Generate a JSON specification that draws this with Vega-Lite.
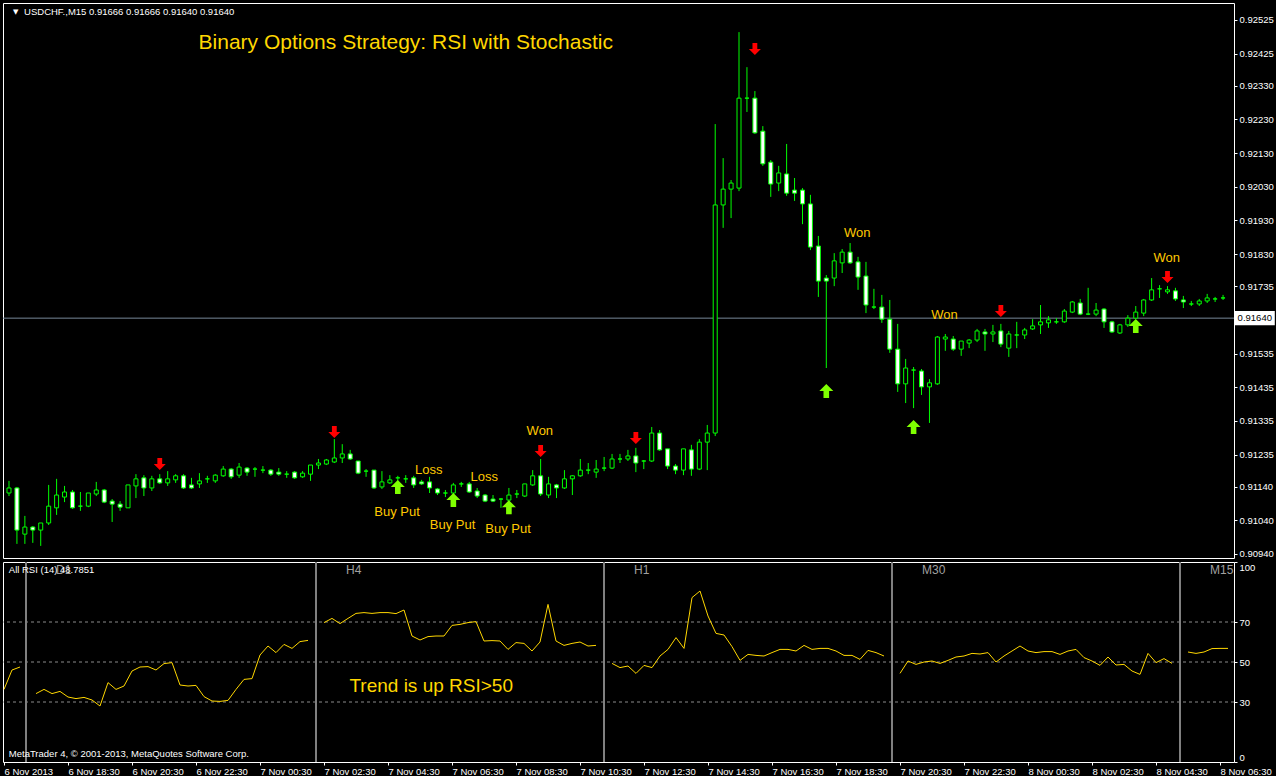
{
  "$schema": "https://vega.github.io/schema/vega-lite/v6.json",
  "background": "#000000",
  "padding": {"left": 1, "top": 2, "right": 0, "bottom": 0},
  "spacing": 4,
  "bounds": "flush",
  "config": {
    "view": {"stroke": "#ffffff", "strokeWidth": 1},
    "font": "Liberation Sans",
    "axis": {"labelColor": "#ffffff", "tickColor": "#ffffff", "labelFont": "Liberation Sans", "labelFontSize": 9.5, "grid": false, "domain": false, "tickSize": 3, "labelOverlap": false}
  },
  "datasets": {
    "candles": [
      {"i":0,"o":0.91121,"h":0.91157,"l":0.91112,"c":0.91136},
      {"i":1,"o":0.91136,"h":0.91139,"l":0.90970,"c":0.91011},
      {"i":2,"o":0.90999,"h":0.91053,"l":0.90970,"c":0.91020},
      {"i":3,"o":0.91020,"h":0.91023,"l":0.90973,"c":0.91011},
      {"i":4,"o":0.91011,"h":0.91032,"l":0.90964,"c":0.91032},
      {"i":5,"o":0.91032,"h":0.91145,"l":0.91026,"c":0.91082},
      {"i":6,"o":0.91077,"h":0.91163,"l":0.91056,"c":0.91115},
      {"i":7,"o":0.91109,"h":0.91142,"l":0.91094,"c":0.91124},
      {"i":8,"o":0.91124,"h":0.91130,"l":0.91074,"c":0.91077},
      {"i":9,"o":0.91082,"h":0.91124,"l":0.91068,"c":0.91082},
      {"i":10,"o":0.91082,"h":0.91121,"l":0.91079,"c":0.91121},
      {"i":11,"o":0.91118,"h":0.91154,"l":0.91112,"c":0.91130},
      {"i":12,"o":0.91130,"h":0.91133,"l":0.91091,"c":0.91094},
      {"i":13,"o":0.91097,"h":0.91103,"l":0.91035,"c":0.91088},
      {"i":14,"o":0.91088,"h":0.91097,"l":0.91068,"c":0.91079},
      {"i":15,"o":0.91077,"h":0.91145,"l":0.91077,"c":0.91145},
      {"i":16,"o":0.91142,"h":0.91177,"l":0.91106,"c":0.91163},
      {"i":17,"o":0.91166,"h":0.91174,"l":0.91112,"c":0.91136},
      {"i":18,"o":0.91136,"h":0.91172,"l":0.91127,"c":0.91163},
      {"i":19,"o":0.91163,"h":0.91177,"l":0.91148,"c":0.91151},
      {"i":20,"o":0.91151,"h":0.91186,"l":0.91142,"c":0.91163},
      {"i":21,"o":0.91160,"h":0.91177,"l":0.91151,"c":0.91172},
      {"i":22,"o":0.91172,"h":0.91177,"l":0.91133,"c":0.91136},
      {"i":23,"o":0.91145,"h":0.91166,"l":0.91133,"c":0.91136},
      {"i":24,"o":0.91148,"h":0.91180,"l":0.91136,"c":0.91157},
      {"i":25,"o":0.91163,"h":0.91172,"l":0.91151,"c":0.91163},
      {"i":26,"o":0.91157,"h":0.91177,"l":0.91151,"c":0.91174},
      {"i":27,"o":0.91172,"h":0.91201,"l":0.91169,"c":0.91192},
      {"i":28,"o":0.91192,"h":0.91195,"l":0.91163,"c":0.91169},
      {"i":29,"o":0.91174,"h":0.91210,"l":0.91166,"c":0.91198},
      {"i":30,"o":0.91195,"h":0.91198,"l":0.91172,"c":0.91183},
      {"i":31,"o":0.91192,"h":0.91198,"l":0.91169,"c":0.91192},
      {"i":32,"o":0.91189,"h":0.91201,"l":0.91180,"c":0.91189},
      {"i":33,"o":0.91189,"h":0.91192,"l":0.91172,"c":0.91177},
      {"i":34,"o":0.91183,"h":0.91195,"l":0.91172,"c":0.91177},
      {"i":35,"o":0.91177,"h":0.91186,"l":0.91166,"c":0.91177},
      {"i":36,"o":0.91183,"h":0.91186,"l":0.91163,"c":0.91166},
      {"i":37,"o":0.91169,"h":0.91186,"l":0.91166,"c":0.91180},
      {"i":38,"o":0.91177,"h":0.91204,"l":0.91157,"c":0.91204},
      {"i":39,"o":0.91204,"h":0.91222,"l":0.91192,"c":0.91210},
      {"i":40,"o":0.91207,"h":0.91222,"l":0.91204,"c":0.91219},
      {"i":41,"o":0.91213,"h":0.91281,"l":0.91210,"c":0.91225},
      {"i":42,"o":0.91225,"h":0.91266,"l":0.91210,"c":0.91237},
      {"i":43,"o":0.91237,"h":0.91249,"l":0.91219,"c":0.91222},
      {"i":44,"o":0.91216,"h":0.91216,"l":0.91177,"c":0.91180},
      {"i":45,"o":0.91186,"h":0.91192,"l":0.91169,"c":0.91186},
      {"i":46,"o":0.91189,"h":0.91189,"l":0.91133,"c":0.91136},
      {"i":47,"o":0.91139,"h":0.91186,"l":0.91133,"c":0.91154},
      {"i":48,"o":0.91151,"h":0.91174,"l":0.91148,"c":0.91160},
      {"i":49,"o":0.91166,"h":0.91172,"l":0.91157,"c":0.91166},
      {"i":50,"o":0.91163,"h":0.91174,"l":0.91151,"c":0.91163},
      {"i":51,"o":0.91166,"h":0.91172,"l":0.91136,"c":0.91145},
      {"i":52,"o":0.91154,"h":0.91160,"l":0.91145,"c":0.91148},
      {"i":53,"o":0.91154,"h":0.91169,"l":0.91121,"c":0.91136},
      {"i":54,"o":0.91133,"h":0.91136,"l":0.91115,"c":0.91121},
      {"i":55,"o":0.91121,"h":0.91130,"l":0.91109,"c":0.91121},
      {"i":56,"o":0.91121,"h":0.91151,"l":0.91112,"c":0.91145},
      {"i":57,"o":0.91148,"h":0.91154,"l":0.91139,"c":0.91148},
      {"i":58,"o":0.91148,"h":0.91154,"l":0.91121,"c":0.91124},
      {"i":59,"o":0.91127,"h":0.91136,"l":0.91106,"c":0.91112},
      {"i":60,"o":0.91115,"h":0.91118,"l":0.91094,"c":0.91097},
      {"i":61,"o":0.91103,"h":0.91115,"l":0.91094,"c":0.91097},
      {"i":62,"o":0.91103,"h":0.91106,"l":0.91077,"c":0.91103},
      {"i":63,"o":0.91100,"h":0.91136,"l":0.91097,"c":0.91115},
      {"i":64,"o":0.91118,"h":0.91130,"l":0.91106,"c":0.91118},
      {"i":65,"o":0.91112,"h":0.91148,"l":0.91109,"c":0.91148},
      {"i":66,"o":0.91145,"h":0.91189,"l":0.91142,"c":0.91172},
      {"i":67,"o":0.91172,"h":0.91222,"l":0.91112,"c":0.91118},
      {"i":68,"o":0.91115,"h":0.91169,"l":0.91106,"c":0.91148},
      {"i":69,"o":0.91145,"h":0.91148,"l":0.91106,"c":0.91136},
      {"i":70,"o":0.91136,"h":0.91189,"l":0.91133,"c":0.91163},
      {"i":71,"o":0.91163,"h":0.91174,"l":0.91115,"c":0.91172},
      {"i":72,"o":0.91172,"h":0.91222,"l":0.91169,"c":0.91189},
      {"i":73,"o":0.91189,"h":0.91210,"l":0.91177,"c":0.91189},
      {"i":74,"o":0.91183,"h":0.91219,"l":0.91166,"c":0.91192},
      {"i":75,"o":0.91195,"h":0.91228,"l":0.91186,"c":0.91195},
      {"i":76,"o":0.91195,"h":0.91237,"l":0.91192,"c":0.91222},
      {"i":77,"o":0.91222,"h":0.91237,"l":0.91210,"c":0.91222},
      {"i":78,"o":0.91222,"h":0.91249,"l":0.91216,"c":0.91231},
      {"i":79,"o":0.91231,"h":0.91255,"l":0.91183,"c":0.91210},
      {"i":80,"o":0.91216,"h":0.91219,"l":0.91192,"c":0.91216},
      {"i":81,"o":0.91216,"h":0.91317,"l":0.91213,"c":0.91299},
      {"i":82,"o":0.91299,"h":0.91308,"l":0.91246,"c":0.91249},
      {"i":83,"o":0.91252,"h":0.91252,"l":0.91192,"c":0.91201},
      {"i":84,"o":0.91201,"h":0.91207,"l":0.91177,"c":0.91189},
      {"i":85,"o":0.91189,"h":0.91252,"l":0.91174,"c":0.91252},
      {"i":86,"o":0.91249,"h":0.91264,"l":0.91172,"c":0.91192},
      {"i":87,"o":0.91192,"h":0.91281,"l":0.91189,"c":0.91272},
      {"i":88,"o":0.91272,"h":0.91323,"l":0.91189,"c":0.91299},
      {"i":89,"o":0.91299,"h":0.92216,"l":0.91290,"c":0.91976},
      {"i":90,"o":0.91976,"h":0.92115,"l":0.91908,"c":0.92023},
      {"i":91,"o":0.92023,"h":0.92050,"l":0.91937,"c":0.92041},
      {"i":92,"o":0.92026,"h":0.92489,"l":0.92017,"c":0.92293},
      {"i":93,"o":0.92293,"h":0.92385,"l":0.92252,"c":0.92293},
      {"i":94,"o":0.92293,"h":0.92314,"l":0.92187,"c":0.92190},
      {"i":95,"o":0.92195,"h":0.92210,"l":0.92092,"c":0.92098},
      {"i":96,"o":0.92103,"h":0.92109,"l":0.92000,"c":0.92038},
      {"i":97,"o":0.92041,"h":0.92092,"l":0.92017,"c":0.92071},
      {"i":98,"o":0.92068,"h":0.92157,"l":0.92003,"c":0.92011},
      {"i":99,"o":0.92020,"h":0.92056,"l":0.91988,"c":0.92011},
      {"i":100,"o":0.92020,"h":0.92026,"l":0.91919,"c":0.91979},
      {"i":101,"o":0.91979,"h":0.92006,"l":0.91842,"c":0.91851},
      {"i":102,"o":0.91854,"h":0.91884,"l":0.91703,"c":0.91750},
      {"i":103,"o":0.91759,"h":0.91768,"l":0.91492,"c":0.91750},
      {"i":104,"o":0.91759,"h":0.91833,"l":0.91735,"c":0.91810},
      {"i":105,"o":0.91804,"h":0.91845,"l":0.91774,"c":0.91836},
      {"i":106,"o":0.91836,"h":0.91863,"l":0.91801,"c":0.91804},
      {"i":107,"o":0.91807,"h":0.91822,"l":0.91724,"c":0.91762},
      {"i":108,"o":0.91765,"h":0.91807,"l":0.91655,"c":0.91679},
      {"i":109,"o":0.91673,"h":0.91727,"l":0.91667,"c":0.91673},
      {"i":110,"o":0.91673,"h":0.91709,"l":0.91626,"c":0.91637},
      {"i":111,"o":0.91637,"h":0.91694,"l":0.91537,"c":0.91548},
      {"i":112,"o":0.91548,"h":0.91623,"l":0.91421,"c":0.91445},
      {"i":113,"o":0.91445,"h":0.91519,"l":0.91388,"c":0.91492},
      {"i":114,"o":0.91486,"h":0.91495,"l":0.91373,"c":0.91486},
      {"i":115,"o":0.91483,"h":0.91489,"l":0.91412,"c":0.91436},
      {"i":116,"o":0.91436,"h":0.91459,"l":0.91329,"c":0.91448},
      {"i":117,"o":0.91445,"h":0.91587,"l":0.91442,"c":0.91584},
      {"i":118,"o":0.91578,"h":0.91593,"l":0.91543,"c":0.91584},
      {"i":119,"o":0.91578,"h":0.91587,"l":0.91543,"c":0.91548},
      {"i":120,"o":0.91548,"h":0.91572,"l":0.91528,"c":0.91572},
      {"i":121,"o":0.91566,"h":0.91578,"l":0.91551,"c":0.91575},
      {"i":122,"o":0.91575,"h":0.91608,"l":0.91569,"c":0.91602},
      {"i":123,"o":0.91599,"h":0.91608,"l":0.91543,"c":0.91593},
      {"i":124,"o":0.91593,"h":0.91620,"l":0.91569,"c":0.91599},
      {"i":125,"o":0.91602,"h":0.91623,"l":0.91554,"c":0.91563},
      {"i":126,"o":0.91551,"h":0.91602,"l":0.91525,"c":0.91593},
      {"i":127,"o":0.91590,"h":0.91629,"l":0.91551,"c":0.91590},
      {"i":128,"o":0.91590,"h":0.91611,"l":0.91578,"c":0.91605},
      {"i":129,"o":0.91608,"h":0.91637,"l":0.91605,"c":0.91617},
      {"i":130,"o":0.91620,"h":0.91679,"l":0.91593,"c":0.91629},
      {"i":131,"o":0.91626,"h":0.91646,"l":0.91611,"c":0.91635},
      {"i":132,"o":0.91629,"h":0.91640,"l":0.91623,"c":0.91629},
      {"i":133,"o":0.91629,"h":0.91667,"l":0.91626,"c":0.91661},
      {"i":134,"o":0.91658,"h":0.91691,"l":0.91655,"c":0.91688},
      {"i":135,"o":0.91685,"h":0.91697,"l":0.91649,"c":0.91652},
      {"i":136,"o":0.91652,"h":0.91730,"l":0.91649,"c":0.91652},
      {"i":137,"o":0.91652,"h":0.91685,"l":0.91646,"c":0.91664},
      {"i":138,"o":0.91667,"h":0.91670,"l":0.91611,"c":0.91629},
      {"i":139,"o":0.91629,"h":0.91632,"l":0.91596,"c":0.91599},
      {"i":140,"o":0.91596,"h":0.91623,"l":0.91593,"c":0.91620},
      {"i":141,"o":0.91620,"h":0.91649,"l":0.91614,"c":0.91640},
      {"i":142,"o":0.91640,"h":0.91676,"l":0.91637,"c":0.91658},
      {"i":143,"o":0.91655,"h":0.91697,"l":0.91646,"c":0.91694},
      {"i":144,"o":0.91694,"h":0.91759,"l":0.91691,"c":0.91724},
      {"i":145,"o":0.91727,"h":0.91738,"l":0.91700,"c":0.91727},
      {"i":146,"o":0.91718,"h":0.91735,"l":0.91712,"c":0.91724},
      {"i":147,"o":0.91721,"h":0.91730,"l":0.91691,"c":0.91697},
      {"i":148,"o":0.91694,"h":0.91706,"l":0.91670,"c":0.91688},
      {"i":149,"o":0.91682,"h":0.91691,"l":0.91676,"c":0.91682},
      {"i":150,"o":0.91682,"h":0.91697,"l":0.91676,"c":0.91691},
      {"i":151,"o":0.91691,"h":0.91712,"l":0.91685,"c":0.91700},
      {"i":152,"o":0.91697,"h":0.91703,"l":0.91688,"c":0.91697},
      {"i":153,"o":0.91700,"h":0.91709,"l":0.91694,"c":0.91700}
    ],
    "signals": [
      {"i":19,"p":0.91207,"dir":"down"},
      {"i":41,"p":0.91302,"dir":"down"},
      {"i":67,"p":0.91246,"dir":"down"},
      {"i":79,"p":0.91284,"dir":"down"},
      {"i":94,"p":0.92439,"dir":"down"},
      {"i":125,"p":0.91661,"dir":"down"},
      {"i":146,"p":0.91762,"dir":"down"},
      {"i":49,"p":0.91139,"dir":"up"},
      {"i":56,"p":0.91100,"dir":"up"},
      {"i":63,"p":0.91079,"dir":"up"},
      {"i":103,"p":0.91424,"dir":"up"},
      {"i":114,"p":0.91317,"dir":"up"},
      {"i":142,"p":0.91617,"dir":"up"}
    ],
    "notes": [
      {"i":1.9,"p":0.92549,"text":"USDCHF.,M15  0.91666 0.91666 0.91640 0.91640","kind":"header"},
      {"i":50,"p":0.92457,"text":"Binary Options Strategy: RSI with Stochastic","kind":"title"},
      {"i":52.9,"p":0.91189,"text":"Loss","kind":"result"},
      {"i":59.9,"p":0.91169,"text":"Loss","kind":"result"},
      {"i":66.9,"p":0.91305,"text":"Won","kind":"result"},
      {"i":106.9,"p":0.91893,"text":"Won","kind":"result"},
      {"i":117.9,"p":0.91649,"text":"Won","kind":"result"},
      {"i":145.9,"p":0.91819,"text":"Won","kind":"result"},
      {"i":48.9,"p":0.91065,"text":"Buy Put","kind":"action"},
      {"i":55.9,"p":0.91026,"text":"Buy Put","kind":"action"},
      {"i":62.9,"p":0.91014,"text":"Buy Put","kind":"action"}
    ],
    "bid": [{"p":0.9164,"text":"0.91640"}],
    "levels": [{"v":30},{"v":50},{"v":70}],
    "tf": [
      {"i":2.75,"name":"D1"},
      {"i":39,"name":"H4"},
      {"i":75,"name":"H1"},
      {"i":111,"name":"M30"},
      {"i":147,"name":"M15"}
    ],
    "rsinotes": [
      {"i":0.6,"v":96,"text":"All RSI (14) 48.7851","kind":"info"},
      {"i":0.6,"v":4,"text":"MetaTrader 4, © 2001-2013, MetaQuotes Software Corp.","kind":"info"},
      {"i":53.4,"v":38,"text":"Trend is up RSI>50","kind":"trend"}
    ],
    "rsi": [
      {"i":0,"v":36.3,"seg":"W1"},{"i":1,"v":46,"seg":"W1"},{"i":2,"v":47.5,"seg":"W1"},
      {"i":4,"v":34.2,"seg":"D1"},{"i":5,"v":36.3,"seg":"D1"},{"i":6,"v":34.2,"seg":"D1"},{"i":7,"v":35.3,"seg":"D1"},
      {"i":8,"v":32.5,"seg":"D1"},{"i":9,"v":31.7,"seg":"D1"},{"i":10,"v":32.3,"seg":"D1"},{"i":11,"v":31,"seg":"D1"},
      {"i":12,"v":28,"seg":"D1"},{"i":13,"v":39.7,"seg":"D1"},{"i":14,"v":36.3,"seg":"D1"},{"i":15,"v":38,"seg":"D1"},
      {"i":16,"v":45.5,"seg":"D1"},{"i":17,"v":47.5,"seg":"D1"},{"i":18,"v":47.7,"seg":"D1"},{"i":19,"v":46,"seg":"D1"},
      {"i":20,"v":49.2,"seg":"D1"},{"i":21,"v":49.7,"seg":"D1"},{"i":22,"v":38.5,"seg":"D1"},{"i":23,"v":38,"seg":"D1"},
      {"i":24,"v":38.3,"seg":"D1"},{"i":25,"v":32.7,"seg":"D1"},{"i":26,"v":30.5,"seg":"D1"},{"i":27,"v":30.3,"seg":"D1"},
      {"i":28,"v":30.8,"seg":"D1"},{"i":29,"v":36.3,"seg":"D1"},{"i":30,"v":41.3,"seg":"D1"},{"i":31,"v":41.7,"seg":"D1"},
      {"i":32,"v":53.5,"seg":"D1"},{"i":33,"v":58,"seg":"D1"},{"i":34,"v":54.7,"seg":"D1"},{"i":35,"v":58.8,"seg":"D1"},
      {"i":36,"v":56.8,"seg":"D1"},{"i":37,"v":60.2,"seg":"D1"},{"i":38,"v":60.8,"seg":"D1"},
      {"i":40,"v":69.7,"seg":"H4"},{"i":41,"v":71.8,"seg":"H4"},{"i":42,"v":69.2,"seg":"H4"},{"i":43,"v":71.8,"seg":"H4"},
      {"i":44,"v":74.3,"seg":"H4"},{"i":45,"v":74.7,"seg":"H4"},{"i":46,"v":74.3,"seg":"H4"},{"i":47,"v":74.7,"seg":"H4"},
      {"i":48,"v":74.7,"seg":"H4"},{"i":49,"v":74.2,"seg":"H4"},{"i":50,"v":76,"seg":"H4"},{"i":51,"v":63,"seg":"H4"},
      {"i":52,"v":61,"seg":"H4"},{"i":53,"v":62.7,"seg":"H4"},{"i":54,"v":63,"seg":"H4"},{"i":55,"v":63,"seg":"H4"},
      {"i":56,"v":68.3,"seg":"H4"},{"i":57,"v":68.8,"seg":"H4"},{"i":58,"v":69.7,"seg":"H4"},{"i":59,"v":70.2,"seg":"H4"},
      {"i":60,"v":60.5,"seg":"H4"},{"i":61,"v":60.7,"seg":"H4"},{"i":62,"v":60.5,"seg":"H4"},{"i":63,"v":56.3,"seg":"H4"},
      {"i":64,"v":59.7,"seg":"H4"},{"i":65,"v":59.3,"seg":"H4"},{"i":66,"v":55.5,"seg":"H4"},{"i":67,"v":60,"seg":"H4"},
      {"i":68,"v":78.8,"seg":"H4"},{"i":69,"v":60.5,"seg":"H4"},{"i":70,"v":58.3,"seg":"H4"},{"i":71,"v":59.3,"seg":"H4"},
      {"i":72,"v":60,"seg":"H4"},{"i":73,"v":58,"seg":"H4"},{"i":74,"v":58.3,"seg":"H4"},
      {"i":76,"v":49.3,"seg":"H1"},{"i":77,"v":47.2,"seg":"H1"},{"i":78,"v":48,"seg":"H1"},{"i":79,"v":44.3,"seg":"H1"},
      {"i":80,"v":48.3,"seg":"H1"},{"i":81,"v":47.2,"seg":"H1"},{"i":82,"v":53,"seg":"H1"},{"i":83,"v":56.3,"seg":"H1"},
      {"i":84,"v":62.2,"seg":"H1"},{"i":85,"v":56.8,"seg":"H1"},{"i":86,"v":82.2,"seg":"H1"},{"i":87,"v":85.5,"seg":"H1"},
      {"i":88,"v":73,"seg":"H1"},{"i":89,"v":64.3,"seg":"H1"},{"i":90,"v":63.5,"seg":"H1"},{"i":91,"v":57.7,"seg":"H1"},
      {"i":92,"v":50.8,"seg":"H1"},{"i":93,"v":53.8,"seg":"H1"},{"i":94,"v":53.3,"seg":"H1"},{"i":95,"v":53,"seg":"H1"},
      {"i":96,"v":54.7,"seg":"H1"},{"i":97,"v":56.3,"seg":"H1"},{"i":98,"v":56.3,"seg":"H1"},{"i":99,"v":55.5,"seg":"H1"},
      {"i":100,"v":58.3,"seg":"H1"},{"i":101,"v":56.3,"seg":"H1"},{"i":102,"v":56.8,"seg":"H1"},{"i":103,"v":56.8,"seg":"H1"},
      {"i":104,"v":55.5,"seg":"H1"},{"i":105,"v":53.3,"seg":"H1"},{"i":106,"v":53.3,"seg":"H1"},{"i":107,"v":51.3,"seg":"H1"},
      {"i":108,"v":55.8,"seg":"H1"},{"i":109,"v":54.7,"seg":"H1"},{"i":110,"v":53,"seg":"H1"},
      {"i":112,"v":44.3,"seg":"M30"},{"i":113,"v":50.5,"seg":"M30"},{"i":114,"v":48.8,"seg":"M30"},{"i":115,"v":50,"seg":"M30"},
      {"i":116,"v":50.5,"seg":"M30"},{"i":117,"v":49.3,"seg":"M30"},{"i":118,"v":50.8,"seg":"M30"},{"i":119,"v":52.5,"seg":"M30"},
      {"i":120,"v":53,"seg":"M30"},{"i":121,"v":54.3,"seg":"M30"},{"i":122,"v":54,"seg":"M30"},{"i":123,"v":54.7,"seg":"M30"},
      {"i":124,"v":50,"seg":"M30"},{"i":125,"v":53,"seg":"M30"},{"i":126,"v":55.5,"seg":"M30"},{"i":127,"v":58,"seg":"M30"},
      {"i":128,"v":55.5,"seg":"M30"},{"i":129,"v":54.7,"seg":"M30"},{"i":130,"v":55.2,"seg":"M30"},{"i":131,"v":55.2,"seg":"M30"},
      {"i":132,"v":53.8,"seg":"M30"},{"i":133,"v":55.5,"seg":"M30"},{"i":134,"v":56.3,"seg":"M30"},{"i":135,"v":52.2,"seg":"M30"},
      {"i":136,"v":50.5,"seg":"M30"},{"i":137,"v":48.3,"seg":"M30"},{"i":138,"v":52.5,"seg":"M30"},{"i":139,"v":48.5,"seg":"M30"},
      {"i":140,"v":48.8,"seg":"M30"},{"i":141,"v":45.5,"seg":"M30"},{"i":142,"v":43.8,"seg":"M30"},{"i":143,"v":54.3,"seg":"M30"},
      {"i":144,"v":49.7,"seg":"M30"},{"i":145,"v":51.7,"seg":"M30"},{"i":146,"v":49.3,"seg":"M30"},
      {"i":148,"v":55,"seg":"M15"},{"i":149,"v":54.3,"seg":"M15"},{"i":150,"v":55,"seg":"M15"},{"i":151,"v":56.7,"seg":"M15"},
      {"i":152,"v":56.8,"seg":"M15"},{"i":153,"v":56.8,"seg":"M15"}
    ]
  },
  "vconcat": [
    {
      "width": 1231,
      "height": 555,
      "resolve": {"axis": {"y": "independent"}},
      "layer": [
        {
          "data": {"name": "bid"},
          "mark": {"type": "rule", "color": "#778899", "strokeWidth": 1},
          "encoding": {
            "y": {"field": "p", "type": "quantitative", "title": null,
                  "scale": {"domain": [0.909281, 0.925754], "nice": false, "zero": false},
                  "axis": {"orient": "right", "title": null, "format": ".5f",
                           "values": [0.9094, 0.9104, 0.9114, 0.91235, 0.91335, 0.91435, 0.91535, 0.91735, 0.9183, 0.9193, 0.9203, 0.9213, 0.9223, 0.9233, 0.92425, 0.92525],
                           "labelPadding": 2, "labelOverlap": false, "labelFlush": false, "labelFontSize": 9.5}}
          }
        },
        {
          "data": {"name": "candles"},
          "mark": {"type": "rule", "color": "#00ff00", "strokeWidth": 1, "clip": true},
          "encoding": {
            "x": {"field": "i", "type": "quantitative", "title": null, "scale": {"domain": [-0.125, 153.75], "nice": false, "zero": false}, "axis": null},
            "y": {"field": "l", "type": "quantitative", "title": null, "axis": null},
            "y2": {"field": "h"}
          }
        },
        {
          "data": {"name": "candles"},
          "mark": {"type": "bar", "width": 4, "stroke": "#00ff00", "strokeWidth": 1, "clip": true},
          "encoding": {
            "x": {"field": "i", "type": "quantitative", "title": null, "axis": null},
            "y": {"field": "o", "type": "quantitative", "title": null, "axis": null},
            "y2": {"field": "c"},
            "fill": {"condition": {"test": "datum.c < datum.o", "value": "#ffffff"}, "value": "#000000"}
          }
        },
        {
          "data": {"name": "signals"},
          "transform": [{"filter": "datum.dir == 'down'"}],
          "mark": {"type": "point", "filled": true, "opacity": 1, "strokeWidth": 0, "color": "#ff0000", "size": 144,
                   "shape": "M-0.4,-1L0.4,-1L0.4,0L1,0L0,1L-1,0L-0.4,0Z"},
          "encoding": {
            "x": {"field": "i", "type": "quantitative", "title": null, "axis": null},
            "y": {"field": "p", "type": "quantitative", "title": null, "axis": null}
          }
        },
        {
          "data": {"name": "signals"},
          "transform": [{"filter": "datum.dir == 'up'"}],
          "mark": {"type": "point", "filled": true, "opacity": 1, "strokeWidth": 0, "color": "#7fff00", "size": 196,
                   "shape": "M-0.4,1L0.4,1L0.4,0L1,0L0,-1L-1,0L-0.4,0Z"},
          "encoding": {
            "x": {"field": "i", "type": "quantitative", "title": null, "axis": null},
            "y": {"field": "p", "type": "quantitative", "title": null, "axis": null}
          }
        },
        {
          "data": {"name": "notes"},
          "transform": [{"filter": "datum.kind == 'title'"}],
          "mark": {"type": "text", "font": "Liberation Sans", "fontSize": 21, "color": "#ffd700", "align": "center", "baseline": "middle"},
          "encoding": {
            "x": {"field": "i", "type": "quantitative", "title": null, "axis": null},
            "y": {"field": "p", "type": "quantitative", "title": null, "axis": null},
            "text": {"field": "text"}
          }
        },
        {
          "data": {"name": "notes"},
          "transform": [{"filter": "datum.kind == 'result' || datum.kind == 'action'"}],
          "mark": {"type": "text", "font": "Liberation Sans", "fontSize": 13, "color": "#ffc800", "align": "center", "baseline": "middle"},
          "encoding": {
            "x": {"field": "i", "type": "quantitative", "title": null, "axis": null},
            "y": {"field": "p", "type": "quantitative", "title": null, "axis": null},
            "text": {"field": "text"}
          }
        },
        {
          "data": {"name": "notes"},
          "transform": [{"filter": "datum.kind == 'header'"}],
          "mark": {"type": "text", "font": "Liberation Sans", "fontSize": 9.5, "color": "#ffffff", "align": "left", "baseline": "middle"},
          "encoding": {
            "x": {"field": "i", "type": "quantitative", "title": null, "axis": null},
            "y": {"field": "p", "type": "quantitative", "title": null, "axis": null},
            "text": {"field": "text"}
          }
        },
        {
          "data": {"name": "notes"},
          "transform": [{"filter": "datum.kind == 'header'"}],
          "mark": {"type": "text", "font": "DejaVu Sans", "fontSize": 7, "color": "#ffffff", "align": "left", "baseline": "middle", "dx": -11, "text": "▼"},
          "encoding": {
            "x": {"field": "i", "type": "quantitative", "title": null, "axis": null},
            "y": {"field": "p", "type": "quantitative", "title": null, "axis": null}
          }
        },
        {
          "data": {"name": "bid"},
          "mark": {"type": "point", "filled": true, "opacity": 1, "strokeWidth": 0, "color": "#ffffff", "size": 1600, "clip": false,
                   "shape": "M-1,-0.36L1,-0.36L1,0.36L-1,0.36Z"},
          "encoding": {
            "x": {"datum": 157.0, "type": "quantitative", "title": null, "axis": null},
            "y": {"field": "p", "type": "quantitative", "title": null, "axis": null}
          }
        },
        {
          "data": {"name": "bid"},
          "mark": {"type": "text", "font": "Liberation Sans", "fontSize": 9.5, "color": "#000000", "align": "center", "baseline": "middle", "clip": false},
          "encoding": {
            "x": {"datum": 157.0, "type": "quantitative", "title": null, "axis": null},
            "y": {"field": "p", "type": "quantitative", "title": null, "axis": null},
            "text": {"field": "text"}
          }
        }
      ]
    },
    {
      "width": 1231,
      "height": 200,
      "layer": [
        {
          "data": {"name": "levels"},
          "mark": {"type": "rule", "color": "#8a8a8a", "strokeWidth": 1, "strokeDash": [3, 3]},
          "encoding": {
            "y": {"field": "v", "type": "quantitative", "title": null, "scale": {"domain": [0, 100], "nice": false, "zero": false},
                  "axis": {"orient": "right", "title": null, "values": [0, 30, 50, 70, 100], "labelFlush": true, "labelPadding": 2, "labelOverlap": false}}
          }
        },
        {
          "data": {"name": "tf"},
          "mark": {"type": "rule", "color": "#808080", "strokeWidth": 2},
          "encoding": {
            "x": {"field": "i", "type": "quantitative", "title": null, "scale": {"domain": [-0.125, 153.75], "nice": false, "zero": false}}
          }
        },
        {
          "data": {"name": "tf"},
          "mark": {"type": "text", "font": "Liberation Sans", "fontSize": 12, "color": "#a0a0a0", "align": "left", "baseline": "middle", "dx": 30},
          "encoding": {
            "x": {"field": "i", "type": "quantitative", "title": null},
            "y": {"datum": 96, "type": "quantitative", "title": null},
            "text": {"field": "name"}
          }
        },
        {
          "data": {"name": "rsi"},
          "mark": {"type": "line", "color": "#ffd700", "strokeWidth": 1},
          "encoding": {
            "x": {"field": "i", "type": "quantitative", "title": null,
                  "axis": {"orient": "bottom", "title": null, "values": [0, 8, 16, 24, 32, 40, 48, 56, 64, 72, 80, 88, 96, 104, 112, 120, 128, 136, 144, 152],
                           "labelExpr": "datum.value == 0 ? '6 Nov 2013' : timeFormat(datetime(2013, 10, 6, 16, 30 + datum.value * 15), '%-d %b %H:%M')",
                           "labelAlign": "left", "labelPadding": 1, "labelOffset": 0, "labelOverlap": false, "labelFlush": false, "labelBound": false}},
            "y": {"field": "v", "type": "quantitative", "title": null},
            "detail": {"field": "seg"}
          }
        },
        {
          "data": {"name": "rsinotes"},
          "transform": [{"filter": "datum.kind == 'info'"}],
          "mark": {"type": "text", "font": "Liberation Sans", "fontSize": 9.5, "color": "#ffffff", "align": "left", "baseline": "middle"},
          "encoding": {
            "x": {"field": "i", "type": "quantitative", "title": null},
            "y": {"field": "v", "type": "quantitative", "title": null},
            "text": {"field": "text"}
          }
        },
        {
          "data": {"name": "rsinotes"},
          "transform": [{"filter": "datum.kind == 'trend'"}],
          "mark": {"type": "text", "font": "Liberation Sans", "fontSize": 19, "color": "#ffd700", "align": "center", "baseline": "middle"},
          "encoding": {
            "x": {"field": "i", "type": "quantitative", "title": null},
            "y": {"field": "v", "type": "quantitative", "title": null},
            "text": {"field": "text"}
          }
        }
      ]
    }
  ]
}
